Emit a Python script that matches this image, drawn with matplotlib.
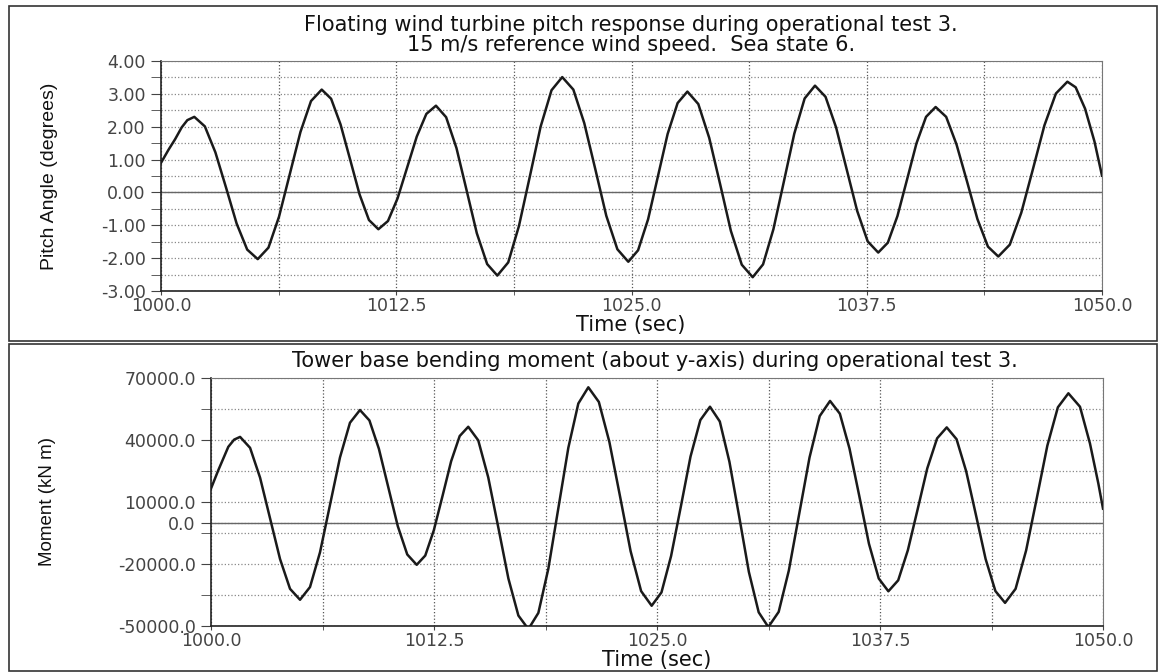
import matplotlib
matplotlib.use("Agg")
import matplotlib.pyplot as plt
from matplotlib.patches import Rectangle
from matplotlib.ticker import FixedLocator, MultipleLocator

plt.rcParams['axes.unicode_minus'] = False

W, H = 1160, 672

# pitch angle (deg)
pitch_t = [1000.0, 1000.4, 1000.75, 1001.1, 1001.4, 1001.77,
           1002.33, 1002.89, 1003.46, 1004.02, 1004.58, 1005.14,
           1005.71, 1006.27, 1006.84, 1007.41, 1007.97, 1008.54,
           1009.04, 1009.54, 1010.05, 1010.55, 1011.05, 1011.55,
           1012.06, 1012.57, 1013.08, 1013.59, 1014.10, 1014.61,
           1015.15, 1015.70, 1016.24, 1016.78, 1017.33, 1017.87,
           1018.45, 1019.02, 1019.60, 1020.17, 1020.75, 1021.32,
           1021.91, 1022.49, 1023.08, 1023.66, 1024.25, 1024.83,
           1025.35, 1025.88, 1026.40, 1026.92, 1027.45, 1027.97,
           1028.55, 1029.13, 1029.71, 1030.28, 1030.86, 1031.44,
           1031.99, 1032.54, 1033.10, 1033.65, 1034.20, 1034.75,
           1035.31, 1035.87, 1036.43, 1036.99, 1037.55, 1038.11,
           1038.62, 1039.13, 1039.64, 1040.14, 1040.65, 1041.16,
           1041.72, 1042.27, 1042.83, 1043.38, 1043.94, 1044.49,
           1045.10, 1045.71, 1046.33, 1046.94, 1047.55, 1048.16,
           1048.6, 1049.1, 1049.6, 1050.0]
pitch_deg = [0.90, 1.30, 1.62, 1.98, 2.20, 2.30,
             2.01, 1.22, 0.14, -0.95, -1.74, -2.03,
             -1.68, -0.74, 0.55, 1.84, 2.78, 3.13,
             2.85, 2.07, 1.00, -0.06, -0.84, -1.12,
             -0.87, -0.18, 0.76, 1.70, 2.39, 2.64,
             2.29, 1.35, 0.06, -1.24, -2.18, -2.53,
             -2.13, -1.02, 0.49, 2.00, 3.11, 3.51,
             3.13, 2.11, 0.70, -0.71, -1.73, -2.11,
             -1.76, -0.82, 0.48, 1.78, 2.72, 3.07,
             2.69, 1.66, 0.25, -1.17, -2.20, -2.58,
             -2.19, -1.12, 0.34, 1.79, 2.86, 3.25,
             2.91, 1.98, 0.71, -0.56, -1.49, -1.83,
             -1.53, -0.72, 0.39, 1.49, 2.30, 2.60,
             2.30, 1.46, 0.33, -0.81, -1.65, -1.95,
             -1.59, -0.62, 0.71, 2.04, 3.01, 3.37,
             3.20, 2.55, 1.55, 0.51]

# tower base moment (kN m)
moment_t = [1000.0, 1000.41, 1000.97, 1001.3, 1001.63,
            1002.19, 1002.75, 1003.31, 1003.87, 1004.43, 1004.99,
            1005.55, 1006.11, 1006.67, 1007.23, 1007.79, 1008.35,
            1008.88, 1009.41, 1009.94, 1010.47, 1011.00, 1011.53,
            1012.01, 1012.49, 1012.98, 1013.46, 1013.94, 1014.42,
            1014.98, 1015.54, 1016.11, 1016.67, 1017.23, 1017.79,
            1018.35, 1018.91, 1019.47, 1020.03, 1020.59, 1021.15,
            1021.74, 1022.33, 1022.93, 1023.52, 1024.11, 1024.70,
            1025.25, 1025.79, 1026.34, 1026.88, 1027.43, 1027.97,
            1028.52, 1029.06, 1029.61, 1030.15, 1030.70, 1031.24,
            1031.82, 1032.39, 1032.97, 1033.55, 1034.12, 1034.70,
            1035.25, 1035.79, 1036.34, 1036.88, 1037.43, 1037.97,
            1038.52, 1039.06, 1039.61, 1040.15, 1040.70, 1041.24,
            1041.79, 1042.33, 1042.88, 1043.42, 1043.97, 1044.51,
            1045.10, 1045.69, 1046.29, 1046.88, 1047.47, 1048.06,
            1048.71, 1049.27, 1049.74, 1050.0]
moment_knm = [16500, 25400, 36700, 40200, 41500,
              36220, 21800, 2100, -17600, -32020, -37300,
              -31150, -14350, 8600, 31550, 48350, 54500,
              49480, 35780, 17050, -1680, -15380, -20400,
              -15920, -3700, 13000, 29700, 41920, 46400,
              39840, 21930, -2550, -27030, -44940, -51500,
              -43660, -22250, 7000, 36250, 57660, 65500,
              58420, 39080, 12650, -13780, -33120, -40200,
              -33750, -16130, 7950, 32030, 49650, 56100,
              48960, 29450, 2800, -23850, -43360, -50500,
              -43170, -23150, 4200, 31550, 51570, 58900,
              52730, 35880, 12850, -10180, -27030, -33200,
              -27890, -13380, 6450, 26280, 40790, 46100,
              40410, 24880, 3650, -17580, -33110, -38800,
              -32010, -13450, 11900, 37250, 55810, 62600,
              56100, 38300, 18900, 6800]

time_ticks = [1000.0, 1012.5, 1025.0, 1037.5, 1050.0]
time_labels = ['1000.0', '1012.5', '1025.0', '1037.5', '1050.0']
pitch_ticks = [-3, -2, -1, 0, 1, 2, 3, 4]
pitch_labels = ['-3.00', '-2.00', '-1.00', '0.00', '1.00', '2.00', '3.00', '4.00']
moment_ticks = [-50000, -20000, 0, 10000, 40000, 70000]
moment_labels = ['-50000.0', '-20000.0', '0.0', '10000.0', '40000.0', '70000.0']
moment_grid = [-50000, -35000, -20000, -5000, 10000, 25000, 40000, 55000, 70000]


def box(x0, y0, x1, y1):
    # pixel box (top-left origin) -> figure fractions
    return [x0 / W, 1 - y1 / H, (x1 - x0) / W, (y1 - y0) / H]


def frame(x0, y0, x1, y1):
    l, b, w, h = box(x0, y0, x1, y1)
    fig.add_artist(Rectangle((l, b), w, h, transform=fig.transFigure,
                             fill=False, ec='#333333', lw=1.2))


def style_axes(ax):
    for s in ax.spines.values():
        s.set_color('#777777')
        s.set_linewidth(0.8)
    ax.spines['left'].set_color('#222222')
    ax.spines['bottom'].set_color('#222222')
    ax.spines['left'].set_linewidth(1.2)
    ax.spines['bottom'].set_linewidth(1.2)
    ax.set_xlim(1000, 1050)
    ax.xaxis.set_major_locator(FixedLocator(time_ticks))
    ax.set_xticklabels(time_labels)
    ax.xaxis.set_minor_locator(MultipleLocator(6.25))
    ax.grid(True, which='both', axis='x', color='#555555', ls=':', lw=0.9)
    ax.tick_params(axis='x', which='both', length=3, pad=1, color='#444444',
                   labelsize=12.5, labelcolor='#444444')
    ax.tick_params(axis='y', which='both', length=7, pad=4, color='#444444',
                   labelsize=12.5, labelcolor='#444444')
    ax.set_axisbelow(True)


fig = plt.figure(figsize=(W / 100, H / 100), dpi=100)
fig.patch.set_facecolor('white')

# panel frames
frame(9, 6, 1157, 341)
frame(9, 344, 1157, 671)

# top panel: pitch angle
ax1 = fig.add_axes(box(161, 61, 1102, 291))
style_axes(ax1)
ax1.set_ylim(-3, 4)
ax1.yaxis.set_major_locator(FixedLocator(pitch_ticks))
ax1.set_yticklabels(pitch_labels)
ax1.yaxis.set_minor_locator(MultipleLocator(0.5))
ax1.grid(True, which='both', axis='y', color='#888888', ls=':', lw=0.9)
ax1.axhline(0, color='#666666', lw=1.0, zorder=1)
ax1.plot(pitch_t, pitch_deg, color='#1a1a1a', lw=1.8, zorder=3)

fig.text(631 / W, 1 - 35 / H,
         'Floating wind turbine pitch response during operational test 3.\n'
         '15 m/s reference wind speed.  Sea state 6.',
         ha='center', va='center', fontsize=15, color='#111111', linespacing=1.0)
fig.text(631 / W, 1 - 325 / H, 'Time (sec)', ha='center', va='center',
         fontsize=15, color='#111111')
fig.text(50 / W, 1 - 176 / H, 'Pitch Angle (degrees)', rotation=90,
         ha='center', va='center', fontsize=14, color='#111111',
         family='Liberation Sans')

# bottom panel: tower base moment
ax2 = fig.add_axes(box(211, 378, 1103, 626))
style_axes(ax2)
ax2.set_ylim(-50000, 70000)
ax2.yaxis.set_major_locator(FixedLocator(moment_ticks))
ax2.set_yticklabels(moment_labels)
ax2.yaxis.set_minor_locator(FixedLocator(moment_grid))
ax2.grid(True, which='both', axis='y', color='#888888', ls=':', lw=0.9)
ax2.axhline(0, color='#666666', lw=1.0, zorder=1)
ax2.plot(moment_t, moment_knm, color='#1a1a1a', lw=1.8, zorder=3)

fig.text(655 / W, 1 - 361 / H,
         'Tower base bending moment (about y-axis) during operational test 3.',
         ha='center', va='center', fontsize=15, color='#111111')
fig.text(657 / W, 1 - 660 / H, 'Time (sec)', ha='center', va='center',
         fontsize=15, color='#111111')
fig.text(48 / W, 1 - 502 / H, 'Moment (kN m)', rotation=90,
         ha='center', va='center', fontsize=13.5, color='#111111',
         family='Liberation Sans')

fig.savefig('out.png', dpi=100)
